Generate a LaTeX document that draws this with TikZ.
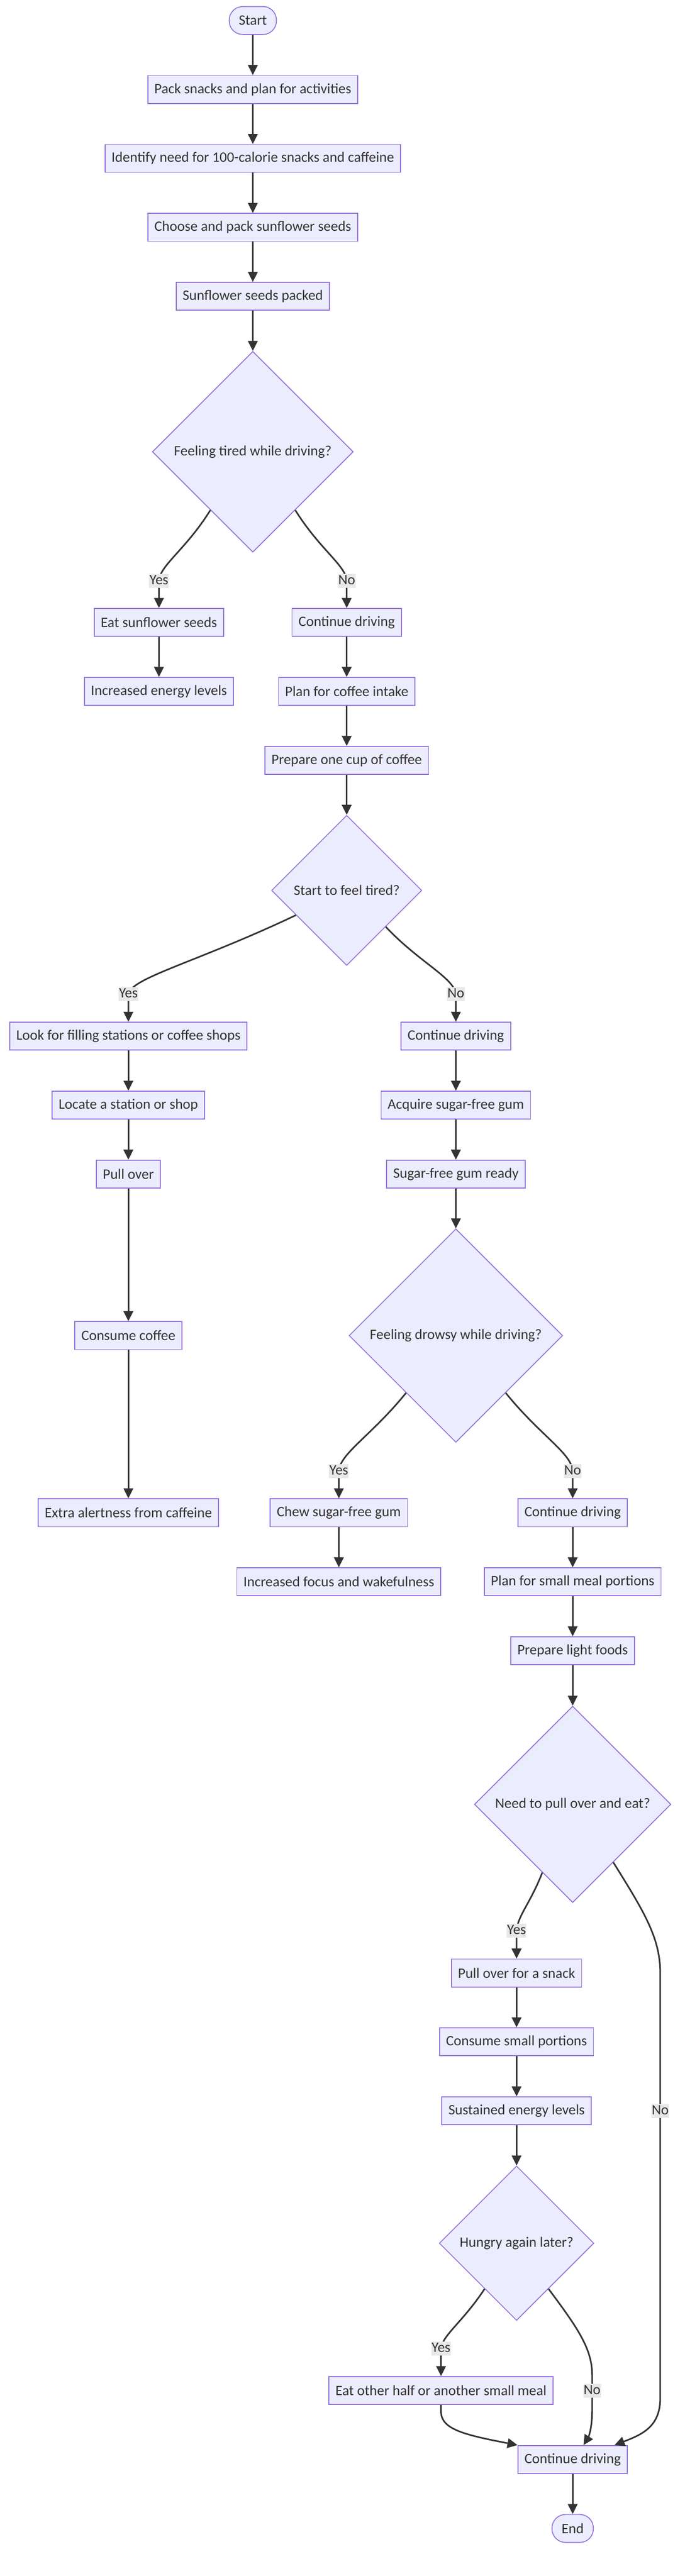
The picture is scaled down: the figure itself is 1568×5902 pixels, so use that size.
\documentclass[tikz,border=0pt]{standalone}
\usepackage{fontspec}
\setmainfont{Carlito}
\usetikzlibrary{arrows.meta,shapes.geometric}
\definecolor{nodefill}{HTML}{ECECFF}
\definecolor{nodeline}{HTML}{9370DB}
\definecolor{edgeline}{HTML}{333333}
\definecolor{labelbg}{HTML}{E8E8E8}
\begin{document}
\begin{tikzpicture}[x=1pt,y=-1pt,
        every node/.style={font=\fontsize{33}{40}\selectfont, text=edgeline},
        box/.style={draw=nodeline, fill=nodefill, line width=2pt, minimum height=64pt, inner xsep=15pt, inner ysep=0pt},
        term/.style={box, rounded corners=31pt, inner xsep=22pt},
        dec/.style={draw=nodeline, fill=nodefill, line width=2pt, diamond, aspect=1, inner sep=0pt},
        lbl/.style={fill=labelbg, inner xsep=1pt, inner ysep=0pt, text height=24pt, text depth=8pt},
        arr/.style={draw=edgeline, line width=3.6pt, -{Triangle[length=23pt,width=22pt]}}]
    \useasboundingbox (0,0) rectangle (1568,5902);
    \node[term] (start) at (579,47) {Start};
    \node[box] (pack) at (579,205) {Pack snacks and plan for activities};
    \node[box] (ident) at (579,363) {Identify need for 100-calorie snacks and caffeine};
    \node[box] (choose) at (579,521) {Choose and pack sunflower seeds};
    \node[box] (packed) at (579,679) {Sunflower seeds packed};
    \node[dec, minimum size=460pt] (tired) at (579,1035) {Feeling tired while driving?};
    \node[box] (eatseeds) at (364,1426) {Eat sunflower seeds};
    \node[box] (drive1) at (794,1426) {Continue driving};
    \node[box] (energy) at (364,1584) {Increased energy levels};
    \node[box] (plancoffee) at (794,1584) {Plan for coffee intake};
    \node[box] (cup) at (794,1742) {Prepare one cup of coffee};
    \node[dec, minimum size=344pt] (feeltired) at (794,2040) {Start to feel tired?};
    \node[box] (look) at (294,2374) {Look for filling stations or coffee shops};
    \node[box] (drive2) at (1044,2374) {Continue driving};
    \node[box] (locate) at (294,2532) {Locate a station or shop};
    \node[box] (gum) at (1044,2532) {Acquire sugar-free gum};
    \node[box] (pullover) at (294,2690) {Pull over};
    \node[box] (gumready) at (1044,2690) {Sugar-free gum ready};
    \node[dec, minimum size=489pt] (drowsy) at (1044,3060) {Feeling drowsy while driving?};
    \node[box] (coffee) at (294,3060) {Consume coffee};
    \node[box] (alert) at (294,3466) {Extra alertness from caffeine};
    \node[box] (chew) at (776,3466) {Chew sugar-free gum};
    \node[box] (drive3) at (1311.5,3466) {Continue driving};
    \node[box] (focus) at (776,3624) {Increased focus and wakefulness};
    \node[box] (planmeal) at (1311.5,3624) {Plan for small meal portions};
    \node[box] (light) at (1311.5,3782) {Prepare light foods};
    \node[dec, minimum size=450pt] (pullq) at (1311.5,4134) {Need to pull over and eat?};
    \node[box] (snack) at (1183,4520.5) {Pull over for a snack};
    \node[box] (portions) at (1183,4678) {Consume small portions};
    \node[box] (sustained) at (1183,4836) {Sustained energy levels};
    \node[dec, minimum size=354pt] (hungry) at (1183,5139.5) {Hungry again later?};
    \node[box] (eathalf) at (1010,5477) {Eat other half or another small meal};
    \node[box] (drive4) at (1311.5,5635) {Continue driving};
    \node[term] (stop) at (1311.5,5793) {End};
    \draw[arr] (start) -- (pack);
    \draw[arr] (pack) -- (ident);
    \draw[arr] (ident) -- (choose);
    \draw[arr] (choose) -- (packed);
    \draw[arr] (packed) -- (tired);
    \draw[arr] (tired.234) .. controls (425,1260) and (366,1295) .. (364,1331) node[lbl] {Yes} -- (eatseeds);
    \draw[arr] (tired.306) .. controls (733,1260) and (792,1295) .. (794,1331) node[lbl] {No} -- (drive1);
    \draw[arr] (eatseeds) -- (energy);
    \draw[arr] (drive1) -- (plancoffee);
    \draw[arr] (plancoffee) -- (cup);
    \draw[arr] (cup) -- (feeltired);
    \draw[arr] (feeltired.206) .. controls (450,2205) and (300,2240) .. (294,2278) node[lbl] {Yes} -- (look);
    \draw[arr] (feeltired.317) .. controls (960,2205) and (1040,2240) .. (1044,2278) node[lbl] {No} -- (drive2);
    \draw[arr] (look) -- (locate);
    \draw[arr] (locate) -- (pullover);
    \draw[arr] (pullover) -- (coffee);
    \draw[arr] (coffee) -- (alert);
    \draw[arr] (drive2) -- (gum);
    \draw[arr] (gum) -- (gumready);
    \draw[arr] (gumready) -- (drowsy);
    \draw[arr] (drowsy.229) .. controls (850,3290) and (778,3330) .. (776,3371) node[lbl] {Yes} -- (chew);
    \draw[arr] (drowsy.311) .. controls (1238,3290) and (1310,3330) .. (1311.5,3371) node[lbl] {No} -- (drive3);
    \draw[arr] (chew) -- (focus);
    \draw[arr] (drive3) -- (planmeal);
    \draw[arr] (planmeal) -- (light);
    \draw[arr] (light) -- (pullq);
    \draw[arr] (pullq.246) .. controls (1215,4360) and (1185,4390) .. (1183,4424) node[lbl] {Yes} -- (snack);
    \draw[arr] (pullq.305) .. controls (1475,4380) and (1512,4440) .. (1512,4520) -- (1512,4837) node[lbl] {No} -- (1512,5495) .. controls (1512,5560) and (1470,5578) .. (drive4.19);
    \draw[arr] (snack) -- (portions);
    \draw[arr] (portions) -- (sustained);
    \draw[arr] (sustained) -- (hungry);
    \draw[arr] (hungry.235) .. controls (1060,5320) and (1013,5350) .. (1010,5381) node[lbl] {Yes} -- (eathalf);
    \draw[arr] (hungry.305) .. controls (1320,5330) and (1356,5380) .. (1356,5440) -- (1356,5478) node[lbl] {No} -- (1356,5525) .. controls (1356,5565) and (1347,5585) .. (drive4.53);
    \draw[arr] (eathalf) -- (1010,5525) .. controls (1010,5565) and (1060,5578) .. (drive4.north west);
    \draw[arr] (drive4) -- (stop);
\end{tikzpicture}
\end{document}
